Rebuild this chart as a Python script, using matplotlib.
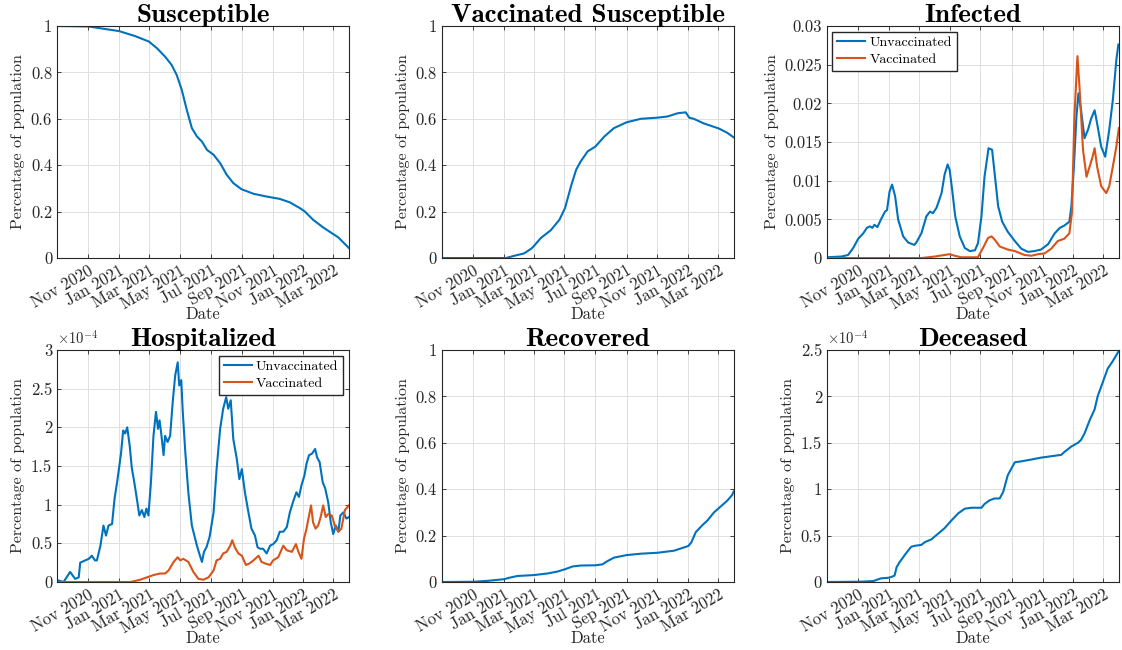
import numpy as np
import matplotlib
matplotlib.use("Agg")
import matplotlib.pyplot as plt
from matplotlib.ticker import FuncFormatter

# x values are days counted from 31 Aug 2020
START = np.datetime64("2020-08-31")
END = np.datetime64("2022-04-01")

tick_dates = ["2020-11-01", "2021-01-01", "2021-03-01", "2021-05-01", "2021-07-01",
              "2021-09-01", "2021-11-01", "2022-01-01", "2022-03-01"]
tick_labels = ["Nov 2020", "Jan 2021", "Mar 2021", "May 2021", "Jul 2021",
               "Sep 2021", "Nov 2021", "Jan 2022", "Mar 2022"]

# Susceptible
sus_days = [0, 62, 123, 154, 182, 198, 214, 227, 237, 247, 257, 267, 277, 287, 297,
            310, 323, 336, 349, 365, 389, 415, 441, 461, 481, 491, 507, 527, 547, 557,
            567, 578]
sus_vals = [1.0, 0.998, 0.978, 0.957, 0.933, 0.904, 0.868, 0.832, 0.789, 0.725, 0.638,
            0.56, 0.524, 0.502, 0.466, 0.445, 0.409, 0.359, 0.323, 0.297, 0.277, 0.265,
            0.255, 0.24, 0.215, 0.2, 0.165, 0.132, 0.103, 0.089, 0.067, 0.043]

# Vaccinated susceptible
vsus_days = [0, 127, 144, 163, 177, 183, 196, 216, 233, 244, 256, 266, 275, 289, 304,
             322, 341, 366, 394, 427, 447, 467, 483, 490, 499, 519, 549, 565, 578]
vsus_vals = [0, 0, 0.01, 0.02, 0.04, 0.053, 0.086, 0.12, 0.165, 0.215, 0.31, 0.38, 0.416,
             0.46, 0.48, 0.524, 0.56, 0.585, 0.60, 0.605, 0.61, 0.624, 0.628, 0.605,
             0.60, 0.58, 0.558, 0.54, 0.52]

# Infected
inf_u_days = [0, 29, 42, 52, 62, 72, 79, 85, 90, 94, 100, 107, 115, 119, 124, 129, 135,
              141, 151, 161, 173, 177, 187, 197, 204, 210, 217, 227, 233, 239, 243, 248,
              254, 263, 273, 283, 293, 299, 306, 312, 320, 327, 332, 339, 347, 358, 372,
              385, 398, 411, 424, 438, 451, 461, 470, 480, 484, 489, 494, 498, 503, 510,
              517, 523, 530, 535, 543, 551, 559, 566, 573, 577]
inf_u_vals = [0.0001, 0.0002, 0.0004, 0.0013, 0.0025, 0.0032, 0.0039, 0.0041, 0.0039,
              0.0043, 0.0040, 0.005, 0.006, 0.0062, 0.0086, 0.0095, 0.008, 0.005, 0.0028,
              0.002, 0.0017, 0.002, 0.0032, 0.0054, 0.006, 0.0058, 0.0065, 0.0084, 0.0108,
              0.0121, 0.0114, 0.0088, 0.0054, 0.0028, 0.0013, 0.0009, 0.001, 0.0019,
              0.0054, 0.0105, 0.0142, 0.014, 0.011, 0.0067, 0.0047, 0.0034, 0.0022,
              0.0012, 0.0008, 0.0009, 0.0011, 0.0018, 0.0032, 0.0039, 0.0042, 0.0047,
              0.0067, 0.0118, 0.0183, 0.0213, 0.0192, 0.0155, 0.0166, 0.018, 0.0191,
              0.0174, 0.0144, 0.0131, 0.0166, 0.0204, 0.0256, 0.0276]
inf_v_days = [0, 187, 214, 233, 243, 253, 266, 299, 309, 319, 326, 332, 342, 358, 372,
              391, 405, 418, 431, 444, 457, 470, 480, 485, 490, 496, 500, 507, 514, 520,
              526, 530, 535, 543, 553, 559, 566, 573, 578]
inf_v_vals = [0, 0, 0.0002, 0.0004, 0.0005, 0.0003, 0.0001, 0.0001, 0.0013, 0.0026,
              0.0028, 0.0024, 0.0015, 0.0011, 0.0009, 0.0004, 0.0003, 0.0005, 0.0006,
              0.0012, 0.0022, 0.0025, 0.0032, 0.0058, 0.0183, 0.0261, 0.0222, 0.014,
              0.0105, 0.0118, 0.0131, 0.0142, 0.0118, 0.0093, 0.0084, 0.0093, 0.0118,
              0.0144, 0.0168]

# Hospitalized (units of 1e-4)
hosp_u_days = [0, 3, 13, 26, 36, 43, 46, 56, 63, 69, 75, 79, 86, 92, 97, 102, 109, 114,
               119, 123, 127, 131, 135, 139, 144, 148, 153, 158, 163, 168, 173, 177, 181,
               186, 191, 196, 200, 203, 206, 211, 214, 219, 224, 229, 234, 239, 242, 246,
               249, 254, 260, 267, 277, 283, 287, 291, 296, 302, 310, 316, 323, 329, 335,
               339, 344, 349, 356, 361, 366, 372, 379, 385, 392, 397, 402, 408, 415, 422,
               428, 435, 441, 448, 455, 461, 468, 474, 479, 484, 490, 494, 499, 505, 511,
               515, 520, 526, 531, 537, 542, 547, 552, 557, 561, 567, 573, 578]
hosp_u_vals = [0, 0.02, 0, 0.13, 0.04, 0.06, 0.25, 0.28, 0.30, 0.34, 0.28, 0.28, 0.47,
               0.73, 0.60, 0.73, 0.75, 1.08, 1.29, 1.48, 1.68, 1.96, 1.92, 2.0, 1.76, 1.48,
               1.29, 1.08, 0.86, 0.93, 0.84, 0.95, 0.86, 1.29, 1.89, 2.2, 1.98, 2.09, 1.94,
               1.64, 1.89, 1.81, 1.89, 2.32, 2.67, 2.84, 2.54, 2.61, 2.2, 1.68, 1.16, 0.73,
               0.47, 0.34, 0.26, 0.39, 0.45, 0.58, 0.9, 1.46, 1.98, 2.24, 2.39, 2.24, 2.35,
               1.85, 1.59, 1.33, 1.46, 1.16, 0.9, 0.69, 0.6, 0.45, 0.43, 0.43, 0.37, 0.47,
               0.49, 0.54, 0.65, 0.65, 0.71, 0.9, 1.05, 1.16, 1.1, 1.25, 1.38, 1.53, 1.64,
               1.66, 1.72, 1.61, 1.55, 1.29, 1.21, 1.03, 0.77, 0.62, 0.73, 0.65, 0.86, 0.9,
               0.82, 0.84]
hosp_v_days = [0, 145, 152, 165, 178, 191, 204, 214, 221, 231, 239, 244, 250, 260, 270,
               280, 290, 300, 310, 316, 323, 329, 336, 343, 347, 352, 359, 366, 374, 381,
               389, 399, 405, 412, 422, 428, 438, 448, 455, 465, 473, 478, 484, 489, 494,
               499, 503, 507, 512, 517, 522, 527, 532, 537, 544, 550, 557, 563, 570, 578]
hosp_v_vals = [0, 0, 0.01, 0.03, 0.06, 0.09, 0.11, 0.11, 0.15, 0.26, 0.32, 0.28, 0.30,
               0.26, 0.13, 0.04, 0.03, 0.06, 0.15, 0.28, 0.30, 0.37, 0.39, 0.47, 0.54,
               0.45, 0.37, 0.34, 0.22, 0.24, 0.28, 0.34, 0.26, 0.24, 0.22, 0.28, 0.32,
               0.47, 0.41, 0.39, 0.49, 0.39, 0.30, 0.56, 0.69, 0.86, 0.99, 0.77, 0.69,
               0.73, 0.84, 0.99, 0.84, 0.88, 0.86, 0.73, 0.65, 0.69, 0.93, 0.99]

# Recovered
rec_days = [0, 62, 91, 123, 137, 150, 183, 210, 229, 244, 259, 275, 304, 318, 328, 341,
            366, 394, 427, 460, 488, 494, 503, 516, 526, 539, 552, 565, 575, 578]
rec_vals = [0, 0.001, 0.005, 0.012, 0.02, 0.026, 0.03, 0.037, 0.045, 0.055, 0.067, 0.071,
            0.072, 0.076, 0.09, 0.105, 0.116, 0.122, 0.126, 0.135, 0.155, 0.17, 0.215,
            0.245, 0.265, 0.30, 0.325, 0.35, 0.375, 0.39]

# Deceased (units of 1e-4)
dec_days = [0, 62, 92, 102, 108, 121, 128, 134, 138, 144, 154, 161, 167, 174, 187, 194,
            207, 220, 233, 246, 260, 273, 286, 306, 312, 322, 332, 342, 349, 358, 365,
            372, 385, 405, 424, 444, 464, 470, 484, 497, 503, 510, 520, 530, 536, 546,
            556, 566, 578]
dec_vals = [0, 0.003, 0.01, 0.03, 0.04, 0.045, 0.055, 0.07, 0.16, 0.215, 0.29, 0.34,
            0.38, 0.39, 0.40, 0.43, 0.46, 0.52, 0.58, 0.66, 0.74, 0.79, 0.80, 0.80, 0.84,
            0.88, 0.90, 0.90, 0.97, 1.15, 1.22, 1.29, 1.30, 1.32, 1.34, 1.355, 1.37, 1.40,
            1.46, 1.50, 1.53, 1.60, 1.74, 1.86, 2.0, 2.15, 2.3, 2.38, 2.49]

BLUE = "#0072BD"
ORANGE = "#D95319"
DARK = "#262626"

plt.rcParams["font.family"] = "cmr10"
plt.rcParams["mathtext.fontset"] = "cm"
plt.rcParams["axes.formatter.use_mathtext"] = True
plt.rcParams["axes.unicode_minus"] = False


def to_dates(days):
    return START + np.array(days).astype("timedelta64[D]")


def style_axes(ax, title, ymax, ystep, scale=1.0, exponent=None):
    ax.set_xlim(START, END)
    ax.set_ylim(0, ymax)
    ax.set_yticks(np.arange(0, ymax + ystep / 2, ystep))
    ax.yaxis.set_major_formatter(FuncFormatter(lambda v, p: f"{round(v / scale, 6):g}"))
    ax.set_xticks(np.array(tick_dates, dtype="datetime64[D]"))
    ax.set_xticklabels(tick_labels, rotation=30, ha="right", va="top",
                       rotation_mode="anchor")
    ax.grid(True, color="#dfdfdf", linewidth=0.7)
    ax.set_axisbelow(True)
    ax.tick_params(direction="in", top=True, right=True, length=3, width=0.6,
                   colors=DARK, labelsize=12)
    for sp in ax.spines.values():
        sp.set_color(DARK)
        sp.set_linewidth(0.8)
    ax.set_title(title, fontfamily="cmb10", fontsize=19.5, pad=3)
    ax.set_xlabel("Date", fontsize=12, color=DARK, labelpad=-3.5)
    ax.set_ylabel("Percentage of population", fontsize=11.5, color=DARK, labelpad=4)
    if exponent is not None:
        ax.text(0.0, 1.012, r"$\times10^{%d}$" % exponent, transform=ax.transAxes,
                ha="left", va="bottom", fontsize=10.5, color=DARK)


fig = plt.figure(figsize=(11.22, 6.5), dpi=100)
lefts = [0.0508, 0.3937, 0.737]
bottoms = [0.603, 0.1046]
w, h = 0.2602, 0.357
axs = [[fig.add_axes([l, b, w, h]) for l in lefts] for b in bottoms]

lw = 1.5
leg_kw = dict(fontsize=10, frameon=True, fancybox=False, framealpha=1, edgecolor=DARK,
              borderaxespad=0.4, handlelength=2.0, borderpad=0.35, labelspacing=0.3,
              handletextpad=0.3)

ax = axs[0][0]
ax.plot(to_dates(sus_days), sus_vals, color=BLUE, lw=lw)
style_axes(ax, "Susceptible", 1, 0.2)

ax = axs[0][1]
ax.plot(to_dates(vsus_days), vsus_vals, color=BLUE, lw=lw)
style_axes(ax, "Vaccinated Susceptible", 1, 0.2)

ax = axs[0][2]
ax.plot(to_dates(inf_u_days), inf_u_vals, color=BLUE, lw=lw, label="Unvaccinated")
ax.plot(to_dates(inf_v_days), inf_v_vals, color=ORANGE, lw=lw, label="Vaccinated")
style_axes(ax, "Infected", 0.03, 0.005)
ax.legend(loc="upper left", **leg_kw)

ax = axs[1][0]
ax.plot(to_dates(hosp_u_days), np.array(hosp_u_vals) * 1e-4, color=BLUE, lw=lw,
        label="Unvaccinated")
ax.plot(to_dates(hosp_v_days), np.array(hosp_v_vals) * 1e-4, color=ORANGE, lw=lw,
        label="Vaccinated")
style_axes(ax, "Hospitalized", 3e-4, 0.5e-4, scale=1e-4, exponent=-4)
ax.legend(loc="upper right", **leg_kw)

ax = axs[1][1]
ax.plot(to_dates(rec_days), rec_vals, color=BLUE, lw=lw)
style_axes(ax, "Recovered", 1, 0.2)

ax = axs[1][2]
ax.plot(to_dates(dec_days), np.array(dec_vals) * 1e-4, color=BLUE, lw=lw)
style_axes(ax, "Deceased", 2.5e-4, 0.5e-4, scale=1e-4, exponent=-4)

fig.savefig("out.png", dpi=100)
